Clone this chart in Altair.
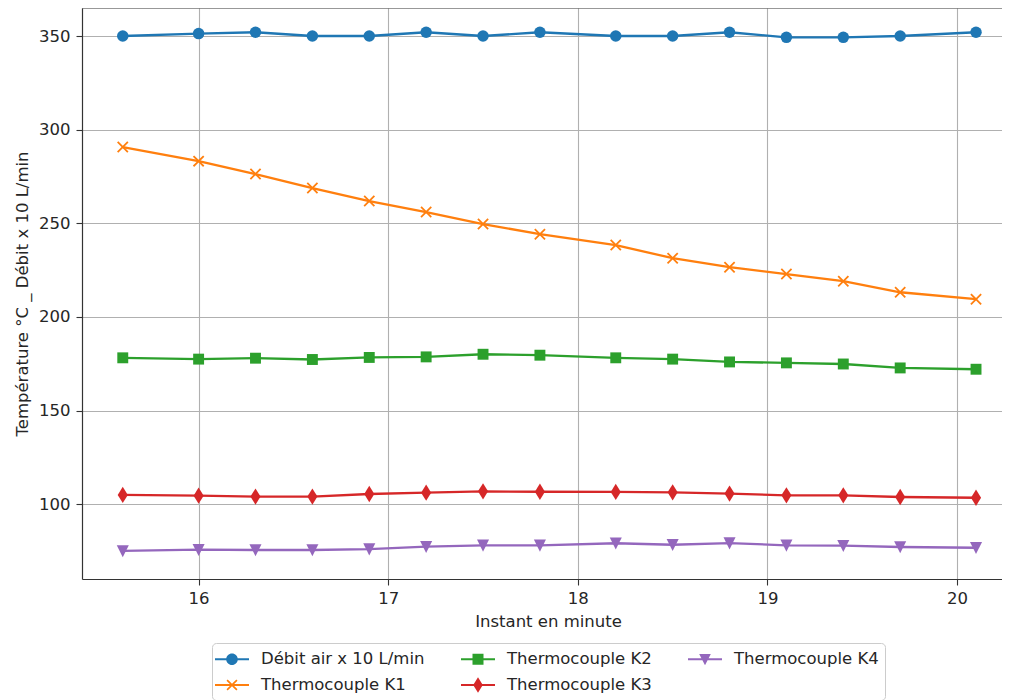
import altair as alt
import pandas as pd

# ---- data ----
minutes = [15.6, 16.0, 16.3, 16.6, 16.9, 17.2, 17.5, 17.8, 18.2, 18.5, 18.8, 19.1, 19.4, 19.7, 20.1]
debit_air = [350, 351.3, 352, 350, 350, 352, 350, 352, 350, 350, 352, 349.3, 349.3, 350, 352]
k1 = [290.7, 283.2, 276.3, 268.8, 261.9, 256.0, 249.6, 244.2, 238.4, 231.4, 226.6, 222.9, 219.1, 213.2, 209.5]
k2 = [178.2, 177.5, 178.0, 177.3, 178.4, 178.7, 180.1, 179.6, 178.2, 177.5, 176.0, 175.5, 174.9, 172.8, 172.1]
k3 = [105.0, 104.6, 104.1, 104.1, 105.5, 106.2, 106.9, 106.7, 106.6, 106.4, 105.7, 104.8, 104.8, 103.9, 103.5]
k4 = [75.1, 75.8, 75.6, 75.6, 76.1, 77.4, 78.1, 78.1, 79.2, 78.4, 79.3, 78.1, 77.9, 77.2, 76.8]

series_names = ["Débit air x 10 L/min", "Thermocouple K1", "Thermocouple K2",
                "Thermocouple K3", "Thermocouple K4"]
series_colors = ["#1f77b4", "#ff7f0e", "#2ca02c", "#d62728", "#9467bd"]
x_ticks = [16, 17, 18, 19, 20]
y_ticks = [100, 150, 200, 250, 300, 350]

x_title = "Instant en minute"
y_title = "Température °C _ Débit x 10 L/min"

# ---- long table ----
values = [debit_air, k1, k2, k3, k4]
rows = []
for name, vals in zip(series_names, values):
    for m, v in zip(minutes, vals):
        rows.append({"minute": m, "value": v, "series": name})
df = pd.DataFrame(rows)

# legend is filled row-major in Vega; order so columns read like matplotlib
legend_order = [series_names[0], series_names[2], series_names[4], series_names[1], series_names[3]]
color_of = dict(zip(series_names, series_colors))
legend_colors = [color_of[n] for n in legend_order]


def x_poly(cx, h, d):
    pts = [(-h, -h + d), (-h + d, -h), (0, -d), (h - d, -h), (h, -h + d), (d, 0),
           (h, h - d), (h - d, h), (0, d), (-h + d, h), (-h, h - d), (-d, 0)]
    s = "M" + "L".join(f"{cx + px:.3f},{py:.3f}" for px, py in pts) + "Z"
    return s


# markers in the plot (unit = sqrt(size)/2 px)
marker_paths = {
    series_names[0]: "circle",
    series_names[1]: x_poly(0, 1.0, 0.22),
    series_names[2]: "M-0.95,-0.95H0.95V0.95H-0.95Z",
    series_names[3]: "M0,-1.42L0.88,0L0,1.42L-0.88,0Z",
    series_names[4]: "M-1.05,-1L1.05,-1L0,1.1Z",
}

# legend symbols: line segment + marker (unit = 10 px)
seg = "M-1.3,-0.11H2.1V0.11H-1.3Z"
cx = 0.4
legend_paths = {
    series_names[0]: seg + f"M{cx+0.58},0A0.58,0.58 0 1,1 {cx-0.58},0A0.58,0.58 0 1,1 {cx+0.58},0Z",
    series_names[1]: seg + x_poly(cx, 0.55, 0.12),
    series_names[2]: seg + f"M{cx-0.55},-0.55H{cx+0.55}V0.55H{cx-0.55}Z",
    series_names[3]: seg + f"M{cx},-0.78L{cx+0.48},0L{cx},0.78L{cx-0.48},0Z",
    series_names[4]: seg + f"M{cx-0.58},-0.52L{cx+0.58},-0.52L{cx},0.6Z",
}

W, H = 920, 571
x_scale = alt.Scale(domain=[15.385, 20.237], nice=False, zero=False)
y_scale = alt.Scale(domain=[60.12, 364.95], nice=False, zero=False)

x_enc = alt.X("minute:Q", scale=x_scale,
              axis=alt.Axis(values=x_ticks, format="d", title=x_title,
                            labelPadding=5, titlePadding=7, titleX=466))
y_enc = alt.Y("value:Q", scale=y_scale,
              axis=alt.Axis(values=y_ticks, format="d", title=y_title,
                            labelPadding=6, titlePadding=8))

color_plain = alt.Color("series:N", scale=alt.Scale(domain=legend_order, range=legend_colors), legend=None)
shape_plain = alt.Shape("series:N",
                        scale=alt.Scale(domain=legend_order, range=[marker_paths[n] for n in legend_order]),
                        legend=None)

base = alt.Chart(df)

lines = base.mark_line(strokeWidth=2.3, opacity=1).encode(x=x_enc, y=y_enc, color=color_plain)

points = base.mark_point(filled=True, size=132, opacity=1, strokeWidth=0).encode(
    x=x_enc, y=y_enc, color=color_plain, shape=shape_plain)

leg = alt.Legend(title=None, orient="none", legendX=130, legendY=635, direction="horizontal",
                 columns=3, columnPadding=36, rowPadding=7, symbolSize=400, labelOffset=23,
                 labelFont="DejaVu Sans", labelFontSize=16.5, labelColor="#262626",
                 padding=6, strokeColor="#cccccc", fillColor="white", cornerRadius=4,
                 symbolStrokeWidth=0, symbolOpacity=1, labelLimit=400)

legend_layer = base.mark_point(filled=True, opacity=1, strokeWidth=0).encode(
    x=x_enc, y=y_enc,
    color=alt.Color("series:N", scale=alt.Scale(domain=legend_order, range=legend_colors), legend=leg),
    shape=alt.Shape("series:N",
                    scale=alt.Scale(domain=legend_order, range=[legend_paths[n] for n in legend_order]),
                    legend=leg),
).transform_filter("false")

top_frame = alt.Chart(pd.DataFrame({"k": [0]})).mark_rule(color="#333333", strokeWidth=1.2).encode(
    x=alt.value(0), x2=alt.value(W), y=alt.value(0))

chart = alt.layer(top_frame, lines, points, legend_layer).resolve_scale(
    color="independent", shape="independent"
).properties(
    width=W, height=H,
    autosize=alt.AutoSizeParams(type="none"),
    padding={"left": 74, "top": 0, "right": 0, "bottom": 121},
    background="white",
).configure_view(stroke=None).configure_axis(
    domainColor="#333333", domainWidth=1.2,
    tickColor="#333333", tickWidth=1.1, tickSize=6,
    labelFont="DejaVu Sans", labelFontSize=16.5, labelColor="#262626",
    titleFont="DejaVu Sans", titleFontSize=16.5, titleFontWeight="normal", titleColor="#262626",
    gridColor="#b0b0b0", gridWidth=1.1, gridOpacity=1,
)

chart.save("out.html", embed_options={"renderer": "svg", "actions": False})
